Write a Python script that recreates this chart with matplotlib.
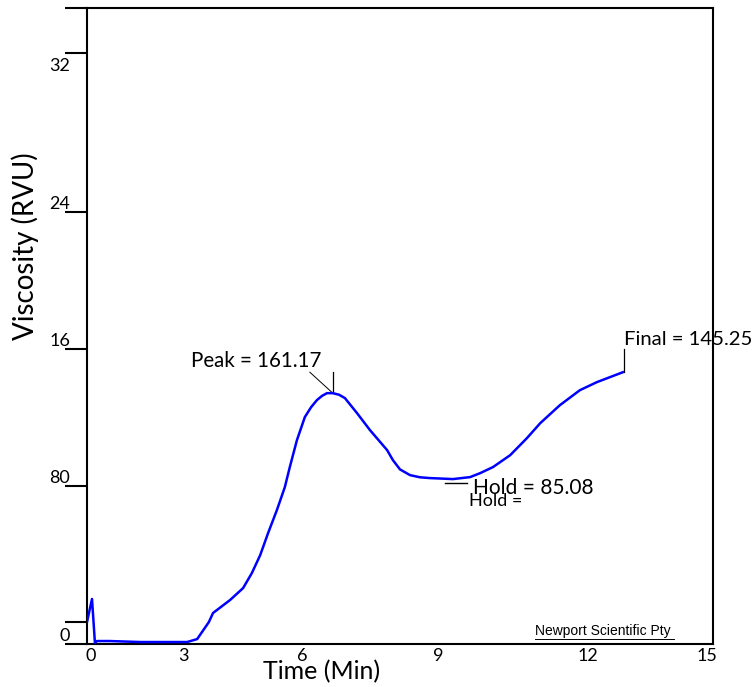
import matplotlib
matplotlib.use('Agg')
import matplotlib.pyplot as plt
from matplotlib.transforms import ScaledTranslation

# RVA pasting curve (time in min, viscosity in chart units)
time_min = [0.00, 0.12, 0.19, 0.24, 0.55, 1.27, 2.40, 2.64, 2.92, 3.02, 3.43, 3.74,
            3.95, 4.15, 4.34, 4.55, 4.74, 4.86, 5.03, 5.22, 5.37, 5.51, 5.63, 5.75,
            5.89, 6.04, 6.18, 6.47, 6.78, 7.19, 7.33, 7.50, 7.74, 7.98, 8.22, 8.77,
            9.18, 9.42, 9.73, 10.14, 10.54, 10.86, 11.33, 11.81, 12.22, 12.53, 12.84]
viscosity = [11.1, 22.8, 0.5, 1.5, 1.5, 1.0, 1.0, 2.5, 11.1, 15.7, 22.3, 28.3,
             35.9, 45.0, 56.2, 67.8, 79.4, 89.6, 103.2, 114.9, 119.9, 123.5, 125.6, 127.0,
             127.0, 126.2, 124.5, 116.9, 108.3, 98.2, 93.1, 88.4, 85.5, 84.4, 84.0, 83.5,
             84.5, 86.5, 89.6, 95.6, 104.2, 111.8, 120.9, 128.5, 132.6, 135.1, 137.6]

peak_val = 161.17
hold_val = 85.08
final_val = 145.25

xtick_pos = [0.1, 2.32, 5.15, 8.41, 12.0, 14.86]
xtick_lab = ['0', '3', '6', '9', '12', '15']
ytick_pos = [0, 11.1, 80, 149.3, 218.8, 299.2, 322]
ytick_lab = ['0', '', '80', '16', '24', '32', '']

plt.rcParams['font.family'] = ['Lato', 'DejaVu Sans']

fig = plt.figure(figsize=(7.56, 6.87), dpi=100)
ax = fig.add_axes([87/756, 43/687, 626/756, 636/687])

ax.plot(time_min, viscosity, color='#0000ff', lw=1.8, zorder=3)
ax.set_xlim(0, 15)
ax.set_ylim(0, 322)

for s in ['left', 'right', 'top', 'bottom']:
    ax.spines[s].set_linewidth(1.5)

ax.set_xticks(xtick_pos, xtick_lab)
ax.tick_params(axis='x', length=0, pad=3, labelsize=13)
ax.set_yticks(ytick_pos, ytick_lab)
ax.tick_params(axis='y', length=16, width=1.5, pad=-4, labelsize=13)
for lab in ax.get_yticklabels():
    if lab.get_text() == '32':
        lab.set_va('top')
        lab.set_transform(lab.get_transform() + ScaledTranslation(0, -5/100, fig.dpi_scale_trans))
    else:
        lab.set_va('bottom')

ax.set_xlabel('Time (Min)', fontsize=18)
ax.xaxis.set_label_coords(0.374, -0.025)
ax.set_ylabel('Viscosity (RVU)', fontsize=20)
ax.yaxis.set_label_coords(-0.076, 0.625)

# peak marker
ax.text(2.49, 143.2, 'Peak = %.2f' % peak_val, fontsize=14.8, va='center', ha='left')
ax.plot([5.34, 5.89], [137.6, 127.0], color='black', lw=0.7)
ax.plot([5.89, 5.89], [137.6, 127.0], color='black', lw=0.9)

# hold marker
ax.plot([8.58, 9.11], [81.5, 81.5], color='black', lw=1.0)
ax.text(9.25, 78.9, 'Hold = %.2f' % hold_val, fontsize=15, va='center', ha='left')
ax.text(9.15, 72.4, 'Hold =', fontsize=13, va='center', ha='left')

# final marker
ax.plot([12.87, 12.87], [137.6, 149.3], color='black', lw=0.9)
ax.text(12.87, 154.3, 'Final = %.2f' % final_val, fontsize=14.6, va='center', ha='left',
        clip_on=False, zorder=1)

ax.text(10.74, 6.6, 'Newport Scientific Pty', fontsize=10, family='Liberation Sans',
        va='center', ha='left')
ax.plot([10.74, 14.06], [2.6, 2.6], color='black', lw=0.7)

fig.savefig('out.png', dpi=100)
